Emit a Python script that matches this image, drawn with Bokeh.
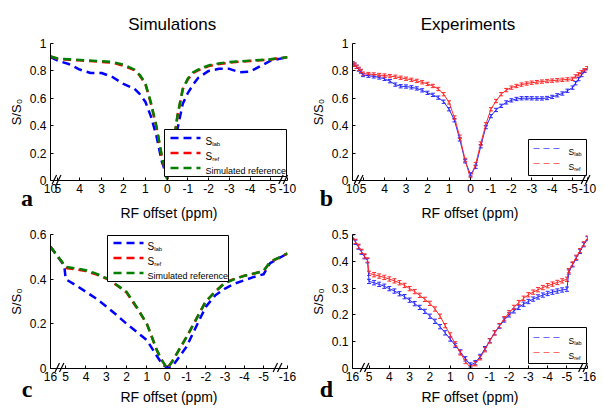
from bokeh.plotting import figure
from bokeh.models import (Range1d, FixedTicker, CustomJSTickFormatter, Whisker, TeeHead,
                          ColumnDataSource, GridBox, Column)
from bokeh.core.properties import value
from bokeh.embed import file_html
from bokeh.resources import INLINE

# ---------------- data ----------------
A_X = [10, 5, 4.5, 4, 3.5, 3, 2.5, 2, 1.5, 1.25, 1, 0.75, 0.5, 0.25, 0, -0.25, -0.5, -0.75,
       -1, -1.25, -1.5, -2, -2.5, -3, -3.5, -4, -4.5, -5, -10]
A_LAB = [0.90, 0.875, 0.85, 0.81, 0.785, 0.785, 0.755, 0.705, 0.67, 0.63, 0.575, 0.47, 0.33,
         0.14, 0.02, 0.12, 0.38, 0.56, 0.64, 0.70, 0.75, 0.80, 0.815, 0.815, 0.79, 0.795,
         0.835, 0.875, 0.90]
A_REF = [0.905, 0.888, 0.882, 0.877, 0.872, 0.866, 0.86, 0.838, 0.805, 0.765, 0.705, 0.565,
         0.395, 0.175, 0.01, 0.215, 0.475, 0.665, 0.74, 0.785, 0.805, 0.835, 0.85, 0.86,
         0.867, 0.873, 0.878, 0.883, 0.90]
A_SIM = [0.905, 0.89, 0.885, 0.88, 0.875, 0.87, 0.865, 0.845, 0.81, 0.77, 0.71, 0.57, 0.40,
         0.18, 0.01, 0.22, 0.48, 0.67, 0.745, 0.79, 0.81, 0.84, 0.855, 0.865, 0.87, 0.875,
         0.88, 0.885, 0.90]

C_X = [16, 6, 5, 4.5, 4, 3.5, 3, 2.5, 2, 1.5, 1, 0.5, 0.25, 0, -0.25, -0.5, -1, -1.5, -2,
       -2.5, -3, -3.5, -4, -4.5, -5, -8, -16]
C_LAB = [0.545, 0.46, 0.40, 0.373, 0.343, 0.313, 0.278, 0.24, 0.20, 0.164, 0.127, 0.055,
         0.02, 0.003, 0.008, 0.037, 0.097, 0.187, 0.276, 0.328, 0.358, 0.38, 0.395, 0.41,
         0.422, 0.472, 0.515]
C_REF = [0.545, 0.462, 0.45, 0.444, 0.436, 0.422, 0.403, 0.374, 0.34, 0.272, 0.20, 0.08,
         0.035, 0.0, 0.03, 0.067, 0.14, 0.22, 0.30, 0.345, 0.385, 0.402, 0.415, 0.425,
         0.437, 0.476, 0.515]
C_SIM = [0.545, 0.465, 0.455, 0.448, 0.44, 0.425, 0.405, 0.375, 0.343, 0.275, 0.20, 0.08,
         0.035, 0.0, 0.03, 0.067, 0.14, 0.22, 0.30, 0.345, 0.383, 0.40, 0.415, 0.425,
         0.437, 0.478, 0.515]

B_X = [10, 9, 8, 7, 6,
       5, 4.75, 4.5, 4.25, 4, 3.75, 3.5, 3.25, 3, 2.75, 2.5, 2.25, 2, 1.75, 1.5, 1.25, 1,
       0.75, 0.5, 0.25, 0, -0.25, -0.5, -0.75, -1, -1.25, -1.5, -1.75, -2, -2.25, -2.5,
       -2.75, -3, -3.25, -3.5, -3.75, -4, -4.25, -4.5, -4.75, -5,
       -6, -7, -8, -9, -10]
B_REF = [0.855, 0.845, 0.83, 0.815, 0.80,
         0.780, 0.777, 0.774, 0.770, 0.766, 0.762, 0.757, 0.750, 0.743, 0.735, 0.727, 0.717,
         0.705, 0.690, 0.668, 0.630, 0.570, 0.460, 0.320, 0.150, 0.012, 0.120, 0.270, 0.410,
         0.520, 0.580, 0.630, 0.660, 0.678, 0.690, 0.700, 0.708, 0.714, 0.718, 0.722, 0.726,
         0.729, 0.732, 0.735, 0.738, 0.742,
         0.76, 0.775, 0.79, 0.805, 0.82]
B_LAB = [0.855, 0.845, 0.83, 0.81, 0.795,
         0.770, 0.765, 0.760, 0.752, 0.742, 0.725, 0.700, 0.688, 0.686, 0.680, 0.672, 0.658,
         0.640, 0.625, 0.605, 0.575, 0.520, 0.440, 0.300, 0.140, 0.044, 0.100, 0.250, 0.390,
         0.470, 0.515, 0.545, 0.570, 0.585, 0.595, 0.600, 0.601, 0.600, 0.599, 0.599, 0.602,
         0.610, 0.622, 0.635, 0.655, 0.678,
         0.71, 0.74, 0.77, 0.80, 0.82]
B_ERR = 0.012

D_X = [16, 14, 12, 10, 8, 6,
       5, 4.75, 4.5, 4.25, 4, 3.75, 3.5, 3.25, 3, 2.75, 2.5, 2.25, 2, 1.75, 1.5, 1.25, 1,
       0.75, 0.5, 0.25, 0, -0.25, -0.5, -0.75, -1, -1.25, -1.5, -1.75, -2, -2.25, -2.5,
       -2.75, -3, -3.25, -3.5, -3.75, -4, -4.25, -4.5, -4.75, -5,
       -6, -8, -10, -12, -14, -16]
D_REF = [0.493, 0.474, 0.456, 0.437, 0.42, 0.405,
         0.355, 0.350, 0.345, 0.340, 0.334, 0.327, 0.320, 0.310, 0.298, 0.287, 0.273, 0.258,
         0.243, 0.222, 0.195, 0.160, 0.125, 0.092, 0.058, 0.026, 0.003, 0.018, 0.040, 0.070,
         0.103, 0.133, 0.160, 0.186, 0.208, 0.228, 0.246, 0.262, 0.275, 0.285, 0.294, 0.302,
         0.309, 0.315, 0.321, 0.327, 0.333,
         0.365, 0.39, 0.415, 0.44, 0.465, 0.487]
D_LAB = [0.49, 0.471, 0.453, 0.434, 0.417, 0.402,
         0.325, 0.320, 0.314, 0.307, 0.298, 0.289, 0.279, 0.268, 0.255, 0.242, 0.228, 0.213,
         0.195, 0.176, 0.156, 0.133, 0.110, 0.086, 0.062, 0.036, 0.013, 0.022, 0.045, 0.074,
         0.104, 0.133, 0.158, 0.181, 0.200, 0.215, 0.228, 0.240, 0.250, 0.259, 0.267, 0.274,
         0.280, 0.285, 0.289, 0.293, 0.296,
         0.36, 0.387, 0.412, 0.437, 0.462, 0.484]
D_ERR = 0.008

TICKS_10 = [10, 5, 4, 3, 2, 1, 0, -1, -2, -3, -4, -5, -10]
TICKS_16 = [16, 5, 4, 3, 2, 1, 0, -1, -2, -3, -4, -5, -16]
COL_TITLES = ["Simulations", "Experiments"]
PANEL_LETTERS = ["a", "b", "c", "d"]
SIM_LEGEND = [("S", "lab"), ("S", "ref"), ("Simulated reference", "")]
EXP_LEGEND = [("S", "lab"), ("S", "ref")]

FONT = "Liberation Sans"
BLUE, RED, GREEN = "#0000ff", "#ff0000", "#007f00"
EBLUE, ERED = "#2a2aff", "#ff2a2a"
LBLUE, LRED = "#6a6aff", "#ff6a6a"


def make_T(k_right, c_left, c_right):
    def T(p):
        if p > 5:
            return -(5 + (p - 5) * c_left)
        if p >= 0:
            return 0.0 - p
        if p >= -5:
            return -p * k_right
        return 5 * k_right + (-5 - p) * c_right
    return T


def base_fig(w, h, T, xmax, xmin, ymax, yticks, ticks, borders, xlab_standoff):
    p = figure(width=w, height=h, output_backend="svg", toolbar_location=None,
               x_range=Range1d(T(xmax), T(xmin)), y_range=Range1d(0, ymax),
               min_border_left=borders[0], min_border_right=borders[1],
               min_border_top=borders[2], min_border_bottom=borders[3])
    p.outline_line_color = None
    p.grid.visible = False
    p.background_fill_color = "white"
    p.border_fill_color = "white"
    tpos = [T(v) for v in ticks]
    p.xaxis.ticker = FixedTicker(ticks=tpos)
    p.xaxis.formatter = CustomJSTickFormatter(
        args=dict(pos=tpos, labs=[str(v) for v in ticks]),
        code="let b=0,d=1e9;for(let i=0;i<pos.length;i++){const e=Math.abs(pos[i]-tick);"
             "if(e<d){d=e;b=i;}}return labs[b];")
    p.yaxis.ticker = FixedTicker(ticks=yticks)
    p.yaxis.formatter = CustomJSTickFormatter(
        code="return (Math.round(tick*100)/100).toString();")
    for ax in (p.xaxis, p.yaxis):
        ax.axis_line_color = "black"
        ax.major_tick_line_color = "black"
        ax.major_tick_in = 3
        ax.major_tick_out = 0
        ax.minor_tick_line_color = None
        ax.major_label_text_font = FONT
        ax.major_label_text_font_size = "12px"
        ax.major_label_text_color = "black"
        ax.axis_label_text_font = FONT
        ax.axis_label_text_font_style = "normal"
        ax.axis_label_text_color = "black"
    p.xaxis.axis_label = "RF offset (ppm)"
    p.xaxis.axis_label_text_font_size = "14px"
    p.xaxis.major_label_standoff = 3
    p.xaxis.axis_label_standoff = xlab_standoff
    p.yaxis.axis_label = "S/S\u2080"
    p.yaxis.axis_label_text_font_size = "13px"
    p.yaxis.major_label_standoff = 4
    p.yaxis.axis_label_standoff = 3
    return p


def px_map(p, fw, fh):
    xr, yr = p.x_range, p.y_range
    X = lambda px: xr.start + px * (xr.end - xr.start) / fw
    Y = lambda py: yr.start + py * (yr.end - yr.start) / fh
    return X, Y


def legend_box(p, fw, fh, box, rows, row_y, sample, text_x, styles, fs_main, fs_sub):
    X, Y = px_map(p, fw, fh)
    l, r, b, t = box
    p.quad(left=[X(l)], right=[X(r)], bottom=[Y(b)], top=[Y(t)], fill_color="white",
           line_color="black", line_width=1)
    for (main, subs), ry, (col, lw, dash) in zip(rows, row_y, styles):
        p.line([X(sample[0]), X(sample[1])], [Y(ry), Y(ry)], line_color=col, line_width=lw,
               line_dash=dash)
        size = fs_main if subs else fs_main - 1
        p.text(x=[X(text_x)], y=[Y(ry - size * 0.36)], text=[main], text_font=value(FONT),
               text_font_size=f"{size}px", text_baseline="alphabetic", text_color="black")
        if subs:
            p.text(x=[X(text_x + size * 0.667)], y=[Y(ry - size * 0.36 - 2.5)], text=[subs],
                   text_font=value(FONT), text_font_size=f"{fs_sub}px",
                   text_baseline="alphabetic", text_color="black")


def sim_panel(p, T, xs, lab, ref, sim, fw, fh, box, row_y, sample, text_x):
    u = [T(v) for v in xs]
    kw = dict(line_width=2.5, line_dash="8 5")
    p.line(u, lab, line_color=BLUE, **kw)
    p.line(u, ref, line_color=RED, **kw)
    p.line(u, sim, line_color=GREEN, **kw)
    legend_box(p, fw, fh, box, SIM_LEGEND, row_y, sample, text_x,
               [(BLUE, 2.5, "8 5"), (RED, 2.5, "8 5"), (GREEN, 2.5, "8 5")], 10, 6)


def exp_panel(p, T, xs, lab, ref, err, fw, fh, box, row_y, sample, text_x):
    u = [T(v) for v in xs]
    for ys, col in ((lab, EBLUE), (ref, ERED)):
        src = ColumnDataSource(dict(u=u, y=ys, lo=[v - err for v in ys],
                                    hi=[v + err for v in ys]))
        p.line("u", "y", source=src, line_color=col, line_width=1)
        p.add_layout(Whisker(source=src, base="u", lower="lo", upper="hi",
                             dimension="height", line_color=col, line_width=1,
                             lower_head=TeeHead(size=4, line_color=col, line_width=1),
                             upper_head=TeeHead(size=4, line_color=col, line_width=1)))
    legend_box(p, fw, fh, box, EXP_LEGEND, row_y, sample, text_x,
               [(LBLUE, 1, "6 4"), (LRED, 1, "6 4")], 8.5, 5.5)


# ---------------- panels ----------------
Ta = make_T(0.945, 0.066, 0.153)
Tb = make_T(0.949, 0.098, 0.139)
Tc = make_T(0.95, 0.068, 0.107)
Td = make_T(0.95, 0.074, 0.092)

W_L, W_R, H_T, H_B = 304, 299, 223, 185
FW_L, FW_R, FH_T, FH_B = 237, 235, 137, 134
B_T = (43, 43)      # top / bottom borders, top row
B_B = (11, 40)      # top / bottom borders, bottom row

pa = base_fig(W_L, H_T, Ta, 10, -10, 1, [0, 0.2, 0.4, 0.6, 0.8, 1], TICKS_10,
              (50, 17) + B_T, 9)
sim_panel(pa, Ta, A_X, A_LAB, A_REF, A_SIM, FW_L, FH_T, (114, 236, 4, 51),
          [42.5, 27.5, 12.5], (120, 150), 155)

pb = base_fig(W_R, H_T, Tb, 10, -10, 1, [0, 0.2, 0.4, 0.6, 0.8, 1], TICKS_10,
              (48, 16) + B_T, 9)
exp_panel(pb, Tb, B_X, B_LAB, B_REF, B_ERR, FW_R, FH_T, (176, 234, 5, 41),
          [32, 17], (181, 211), 216)

pc = base_fig(W_L, H_B, Tc, 16, -16, 0.6, [0, 0.2, 0.4, 0.6], TICKS_16,
              (50, 17) + B_B, 5)
sim_panel(pc, Tc, C_X, C_LAB, C_REF, C_SIM, FW_L, FH_B, (57, 178, 87, 133),
          [125.5, 110.5, 95.5], (63, 93), 97)

pd = base_fig(W_R, H_B, Td, 16, -16, 0.5, [0, 0.1, 0.2, 0.3, 0.4, 0.5], TICKS_16,
              (48, 16) + B_B, 5)
exp_panel(pd, Td, D_X, D_LAB, D_REF, D_ERR, FW_R, FH_B, (176, 234, 5, 41),
          [31, 16], (181, 211), 216)

# ---------------- transparent overlay in page pixels ----------------
ov = figure(width=W_L + W_R, height=H_T + H_B, output_backend="svg", toolbar_location=None,
            x_range=Range1d(0, W_L + W_R), y_range=Range1d(H_T + H_B, 0),
            x_axis_type=None, y_axis_type=None, min_border=0,
            min_border_left=0, min_border_right=0, min_border_top=0, min_border_bottom=0)
ov.outline_line_color = None
ov.background_fill_color = None
ov.border_fill_color = None
ov.text(x=[171.7, 467.5], y=[24, 24], text=COL_TITLES, text_font=value(FONT),
        text_font_size="17px", text_align="center", text_baseline="alphabetic",
        text_color="black")
ov.text(x=[26.5, 326, 26.5, 326], y=[197, 197, 388, 388], text=PANEL_LETTERS,
        text_font=value("Liberation Serif"), text_font_style="bold", text_font_size="24px",
        text_align="center", text_baseline="alphabetic", text_color="black")

# axis-break marks "//", placed through each panel's own x mapping
frames = [  # (panel, T, frame left, frame bottom, frame width, break ppm pair)
    (pa, Ta, 50, B_T[0] + FH_T, FW_L, (5.8, -8.7)),
    (pb, Tb, W_L + 48, B_T[0] + FH_T, FW_R, (7.1, -9.35)),
    (pc, Tc, 50, H_T + B_B[0] + FH_B, FW_L, (9.5, -11.4)),
    (pd, Td, W_L + 48, H_T + B_B[0] + FH_B, FW_R, (8.0, -13.6)),
]
x0s, y0s, x1s, y1s = [], [], [], []
for p, T, fl, fb, fw, pair in frames:
    xs, xe = p.x_range.start, p.x_range.end
    for pp in pair:
        cx = fl + (T(pp) - xs) / (xe - xs) * fw
        for o in (-2.2, 2.2):
            x0s.append(cx + o - 2.2)
            y0s.append(fb + 3.5)
            x1s.append(cx + o + 2.2)
            y1s.append(fb - 5.5)
ov.segment(x0=x0s, y0=y0s, x1=x1s, y1=y1s, line_color="black", line_width=1.2)

grid = GridBox(children=[(pa, 0, 0), (pb, 0, 1), (pc, 1, 0), (pd, 1, 1),
                         (Column(children=[ov]), 0, 0, 2, 2)])
open("out.html", "w").write(file_html(grid, INLINE))
